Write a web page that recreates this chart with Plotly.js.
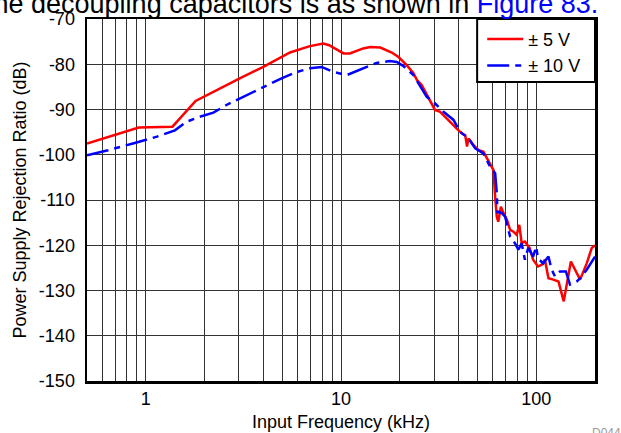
<!DOCTYPE html>
<html>
<head>
<meta charset="utf-8">
<script src="https://cdn.plot.ly/plotly-3.0.1.min.js"></script>
<style>
  html, body { margin: 0; padding: 0; background: #ffffff; }
  #chart { width: 621px; height: 433px; }
</style>
</head>
<body>
<div id="chart"></div>
<script>
// ---- data (frequency in kHz, PSRR in dB) ----
const seriesNames = ['± 5 V', '± 10 V'];

const red5VFreq = [0.5, 0.92, 1.37, 1.8, 3.03, 4.0, 5.48, 6.93, 8.11, 8.7, 10.3, 11.1, 13.0, 14.1, 15.9, 18.2, 19.7, 21.7, 23.5, 24.5, 25.9, 27.5, 29.2, 30.3, 32.2, 34.1, 37.7, 40.0, 41.6, 43.3, 44.2, 45.0, 47.7, 50.6, 53.6, 56.9, 60.4, 61.6, 62.8, 63.9, 65.9, 68.0, 70.8, 73.5, 76.4, 79.4, 81.9, 84.2, 87.5, 92.7, 96.4, 102.1, 106.7, 110.8, 115.5, 122.3, 130, 138.3, 150.5, 167.8, 181.4, 192.5, 200];
const red5VPsrr = [-97.5, -94, -93.8, -88.1, -83.1, -80.6, -77.4, -76.0, -75.4, -75.8, -77.6, -77.6, -76.5, -76.2, -76.3, -77.4, -78.4, -80.2, -82.0, -83.5, -84.6, -86.8, -88.7, -90.1, -90.5, -91.6, -93.7, -94.6, -95.3, -95.7, -98.2, -96.4, -97.9, -99.0, -99.3, -101.2, -103.4, -109.3, -113.7, -114.8, -111.5, -112.9, -114.4, -116.6, -117.0, -117.7, -115.5, -119.5, -119.2, -120.7, -123.2, -124.7, -124.3, -123.2, -127.3, -127.6, -128.0, -132.4, -123.6, -127.6, -124.0, -120.6, -120.0];

const blue10VFreq = [0.5, 0.641, 0.86, 1.14, 1.41, 1.62, 1.89, 2.22, 2.59, 3.16, 3.70, 4.32, 4.96, 5.93, 6.93, 7.96, 9.13, 10.7, 12.5, 13.5, 15.2, 17.8, 19.3, 20.9, 23.5, 25.9, 27.5, 29.7, 33.5, 37.7, 40.7, 45.0, 48.7, 53.6, 58.0, 61.6, 62.8, 63.3, 63.9, 66.6, 69.3, 73.5, 77.9, 81.0, 84.2, 87.5, 91.0, 96.4, 100, 102, 108.7, 115.5, 120, 124.8, 132.2, 141.9, 148.9, 161.4, 167.8, 181.4, 196, 200];
const blue10VPsrr = [-100.1, -99, -97.5, -96, -94.6, -92.7, -91.6, -90.7, -89, -87.2, -85.7, -84.3, -83.1, -81.7, -80.9, -80.6, -81.7, -82.4, -81.2, -80.6, -79.7, -79.3, -79.5, -80.4, -82.4, -85.4, -87.2, -88.3, -90.5, -92.3, -94.9, -96.4, -98.6, -99.7, -102.6, -104.1, -108.5, -112.9, -112.6, -112.9, -113.7, -118.1, -119.6, -121, -119.6, -123.2, -120.6, -122.5, -120.3, -122.9, -124, -122.5, -125.4, -126.9, -125.8, -125.8, -128.7, -128, -127.3, -125.4, -123.2, -122.5];

const yTickVals = [-150, -140, -130, -120, -110, -100, -90, -80, -70];
const yTickText = ['-150', '-140', '-130', '-120', '-110', '-100', '-90', '-80', '-70'];

const xTitle = 'Input Frequency (kHz)';
const yTitle = 'Power Supply Rejection Ratio (dB)';
const topText = 'the decoupling capacitors is as shown in <span style="color:#0000ff">Figure 83.</span>';
const figId = 'D044';

// ---- chart ----
const FONT = 'Liberation Sans, Arial, Helvetica, sans-serif';

const traces = [
  {
    x: red5VFreq, y: red5VPsrr, name: seriesNames[0],
    type: 'scatter', mode: 'lines',
    line: { color: '#ff0000', width: 2.5 }
  },
  {
    x: blue10VFreq, y: blue10VPsrr, name: seriesNames[1],
    type: 'scatter', mode: 'lines',
    line: { color: '#0000ff', width: 2.5, dash: '22px,6px,6px,6px' }
  }
];

const layout = {
  width: 621, height: 433,
  margin: { l: 87, r: 26, t: 19, b: 52, pad: 0 },
  paper_bgcolor: '#ffffff', plot_bgcolor: '#ffffff',
  font: { family: FONT, size: 18, color: '#000000' },
  showlegend: true,
  legend: {
    x: 0.778, xanchor: 'left', y: 0.995, yanchor: 'top',
    bgcolor: 'rgba(0,0,0,0)', borderwidth: 0,
    itemwidth: 36,
    font: { family: FONT, size: 18, color: '#000000' },
    tracegroupgap: 0
  },
  shapes: [
    {
      type: 'rect', xref: 'paper', yref: 'paper', layer: 'above',
      x0: 0.768, x1: 1.0, y0: 0.826, y1: 1.0,
      fillcolor: '#ffffff', line: { color: '#000000', width: 2 }
    }
  ],
  xaxis: {
    type: 'log',
    range: [Math.log10(0.5), Math.log10(200)],
    tickmode: 'linear', tick0: 0, dtick: 1,
    showgrid: true, gridcolor: '#333333', gridwidth: 1,
    minor: { dtick: 'D1', showgrid: true, gridcolor: '#333333', gridwidth: 1, ticks: '' },
    ticks: '',
    tickfont: { family: FONT, size: 18, color: '#000000' },
    showline: true, linecolor: '#000000', linewidth: 2.5, mirror: true,
    zeroline: false, automargin: false
  },
  yaxis: {
    range: [-150, -70],
    tickmode: 'array', tickvals: yTickVals, ticktext: yTickText,
    showgrid: true, gridcolor: '#333333', gridwidth: 1,
    ticks: '', ticklabelstandoff: 6,
    tickfont: { family: FONT, size: 18, color: '#000000' },
    showline: true, linecolor: '#000000', linewidth: 2.5, mirror: true,
    zeroline: false, automargin: false,
    title: { text: yTitle, font: { family: FONT, size: 18, color: '#000000' }, standoff: 8 }
  },
  annotations: [
    {
      xref: 'paper', yref: 'paper', x: 0.5, y: -0.113,
      xanchor: 'center', yanchor: 'middle', showarrow: false,
      text: xTitle, font: { family: FONT, size: 18, color: '#000000' }
    },
    {
      xref: 'paper', yref: 'paper', x: 1.0098, y: 0.994,
      xanchor: 'right', yanchor: 'bottom', showarrow: false,
      text: topText, font: { family: FONT, size: 27, color: '#000000' }
    },
    {
      xref: 'paper', yref: 'paper', x: 0.99, y: -0.118,
      xanchor: 'left', yanchor: 'top', showarrow: false,
      text: figId, font: { family: FONT, size: 12, color: '#9a9a9a' }
    }
  ],
  hovermode: false
};

Plotly.newPlot('chart', traces, layout, { displayModeBar: false, staticPlot: true });
</script>
</body>
</html>
